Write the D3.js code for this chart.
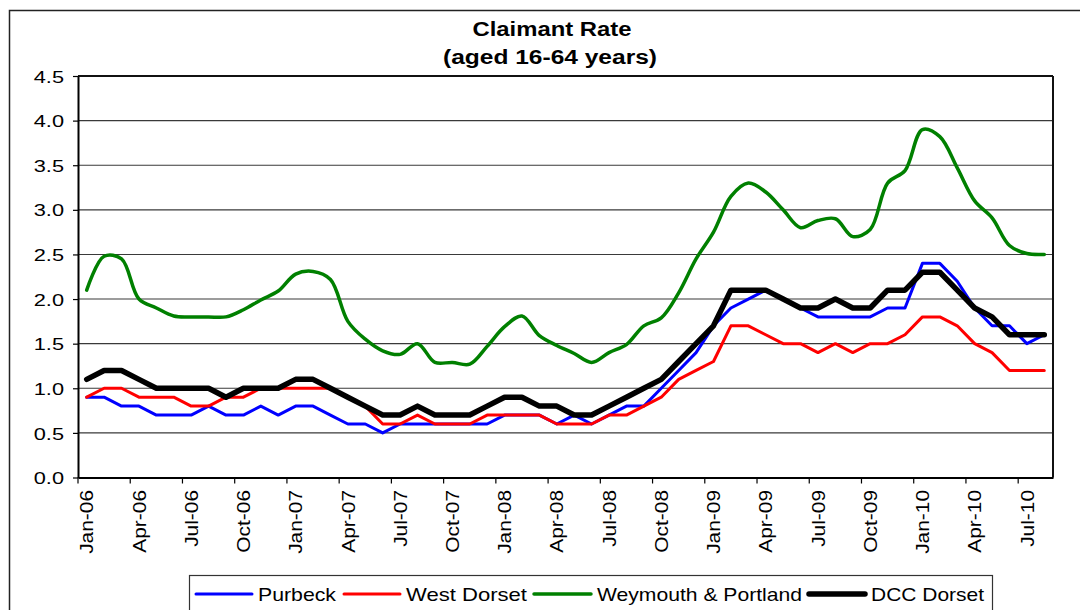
<!DOCTYPE html>
<html>
<head>
<meta charset="utf-8">
<script src="https://cdn.jsdelivr.net/npm/d3@7"></script>
<style>
  body { margin: 0; background: #fff; }
  text { font-family: "Liberation Sans", Arial, sans-serif; fill: #000; }
</style>
</head>
<body>
<div id="chart"></div>
<script>
// months on the category axis
const months = [
  "Jan-06","Feb-06","Mar-06","Apr-06","May-06","Jun-06","Jul-06","Aug-06","Sep-06","Oct-06","Nov-06","Dec-06",
  "Jan-07","Feb-07","Mar-07","Apr-07","May-07","Jun-07","Jul-07","Aug-07","Sep-07","Oct-07","Nov-07","Dec-07",
  "Jan-08","Feb-08","Mar-08","Apr-08","May-08","Jun-08","Jul-08","Aug-08","Sep-08","Oct-08","Nov-08","Dec-08",
  "Jan-09","Feb-09","Mar-09","Apr-09","May-09","Jun-09","Jul-09","Aug-09","Sep-09","Oct-09","Nov-09","Dec-09",
  "Jan-10","Feb-10","Mar-10","Apr-10","May-10","Jun-10","Jul-10","Aug-10"
]
const tickMonths = ["Jan-06","Apr-06","Jul-06","Oct-06","Jan-07","Apr-07","Jul-07","Oct-07","Jan-08",
  "Apr-08","Jul-08","Oct-08","Jan-09","Apr-09","Jul-09","Oct-09","Jan-10","Apr-10","Jul-10"]
const yTicks = [0, 0.5, 1, 1.5, 2, 2.5, 3, 3.5, 4, 4.5]

const purbeck = [0.9,0.9,0.8,0.8,0.7,0.7,0.7,0.8,0.7,0.7,0.8,0.7,
  0.8,0.8,0.7,0.6,0.6,0.5,0.6,0.6,0.6,0.6,0.6,0.6,
  0.7,0.7,0.7,0.6,0.7,0.6,0.7,0.8,0.8,1.0,1.2,1.4,
  1.7,1.9,2.0,2.1,2.0,1.9,1.8,1.8,1.8,1.8,1.9,1.9,
  2.4,2.4,2.2,1.9,1.7,1.7,1.5,1.6]
const westDorset = [0.9,1.0,1.0,0.9,0.9,0.9,0.8,0.8,0.9,0.9,1.0,1.0,
  1.0,1.0,1.0,0.9,0.8,0.6,0.6,0.7,0.6,0.6,0.6,0.7,
  0.7,0.7,0.7,0.6,0.6,0.6,0.7,0.7,0.8,0.9,1.1,1.2,
  1.3,1.7,1.7,1.6,1.5,1.5,1.4,1.5,1.4,1.5,1.5,1.6,
  1.8,1.8,1.7,1.5,1.4,1.2,1.2,1.2]
const weymouth = [2.1,2.48,2.45,2.0,1.9,1.81,1.8,1.8,1.8,1.88,1.99,2.09,
  2.28,2.31,2.22,1.75,1.55,1.42,1.38,1.5,1.29,1.29,1.27,1.47,
  1.69,1.81,1.59,1.48,1.39,1.29,1.4,1.49,1.7,1.79,2.07,2.45,
  2.75,3.15,3.3,3.2,3.0,2.8,2.88,2.9,2.7,2.78,3.3,3.44,
  3.9,3.82,3.47,3.1,2.91,2.6,2.51,2.5]
const dccDorset = [1.1,1.2,1.2,1.1,1.0,1.0,1.0,1.0,0.9,1.0,1.0,1.0,
  1.1,1.1,1.0,0.9,0.8,0.7,0.7,0.8,0.7,0.7,0.7,0.8,
  0.9,0.9,0.8,0.8,0.7,0.7,0.8,0.9,1.0,1.1,1.3,1.5,
  1.7,2.1,2.1,2.1,2.0,1.9,1.9,2.0,1.9,1.9,2.1,2.1,
  2.3,2.3,2.1,1.9,1.8,1.6,1.6,1.6]

const seriesNames = ["Purbeck", "West Dorset", "Weymouth & Portland", "DCC Dorset"]
const seriesValues = [purbeck, westDorset, weymouth, dccDorset]

// styling per series
const colors = ["#0000ff", "#ff0000", "#008000", "#000000"]
const widths = [3, 3, 3.5, 5.5]
const smooth = [false, false, true, false]

const WIDTH = 1080
const HEIGHT = 610
const plot = { left: 78, right: 1053, top: 76, bottom: 477.5 }

// stretch text along its reading direction (the original's font renders wide)
function stretch(sel, k) {
  sel.each(function() {
    const w = this.getComputedTextLength()
    d3.select(this).attr("textLength", w * k).attr("lengthAdjust", "spacingAndGlyphs")
  })
}

const svg = d3.select("#chart")
  .append("svg")
  .attr("width", WIDTH)
  .attr("height", HEIGHT)

// chart area border (left and top only visible)
svg.append("path")
  .attr("d", `M9.5,${HEIGHT} V10.5 H${WIDTH}`)
  .attr("fill", "none")
  .attr("stroke", "#222")
  .attr("stroke-width", 1.5)

const x = d3.scaleBand().domain(months).range([plot.left, plot.right]).padding(0)
const y = d3.scaleLinear().domain([0, 4.5]).range([plot.bottom, plot.top])
const bw = x.bandwidth()
const cx = m => x(m) + bw / 2

// gridlines
svg.append("g")
  .selectAll("line")
  .data(yTicks.filter(d => d > 0))
  .enter()
  .append("line")
  .attr("x1", plot.left)
  .attr("x2", plot.right)
  .attr("y1", d => y(d))
  .attr("y2", d => y(d))
  .attr("stroke", d => d === 4.5 ? "#111" : "#3a3a3a")
  .attr("stroke-width", d => d === 4.5 ? 1.8 : 1.1)

// right border of plot area
svg.append("line")
  .attr("x1", plot.right).attr("x2", plot.right)
  .attr("y1", plot.top).attr("y2", plot.bottom)
  .attr("stroke", "#111").attr("stroke-width", 2)

// y axis
const yAxis = svg.append("g")
  .attr("transform", `translate(${plot.left},0)`)
  .call(d3.axisLeft(y).tickValues(yTicks).tickFormat(d3.format(".1f")).tickSizeInner(5).tickSizeOuter(0))
yAxis.select(".domain").attr("stroke", "#000").attr("stroke-width", 2)
yAxis.selectAll(".tick line").attr("stroke", "#000").attr("stroke-width", 1.2)
yAxis.selectAll(".tick text")
  .attr("x", -14)
  .attr("dy", "0.36em")
  .style("font-size", "17px")
  .call(stretch, 1.28)

// x axis: ticks at category boundaries, labels at category centres
const xAxis = svg.append("g")
  .attr("transform", `translate(0,${plot.bottom})`)
  .call(d3.axisBottom(x).tickValues(tickMonths).tickSizeInner(6).tickSizeOuter(0))
xAxis.select(".domain").attr("stroke", "#000").attr("stroke-width", 2.2)
xAxis.selectAll(".tick line")
  .attr("transform", `translate(${-bw / 2},0)`)
  .attr("stroke", "#000").attr("stroke-width", 1.2)
xAxis.selectAll(".tick text")
  .attr("transform", "rotate(-90)")
  .attr("text-anchor", "end")
  .attr("x", -12.5)
  .attr("y", 0)
  .attr("dy", "0.37em")
  .style("font-size", "18px")
  .call(stretch, 1.16)

// series lines
seriesValues.forEach(function(vals, s) {
  const line = d3.line()
    .x((d, i) => cx(months[i]))
    .y(d => y(d))
    .curve(smooth[s] ? d3.curveCatmullRom.alpha(0.5) : d3.curveLinear)
  svg.append("path")
    .datum(vals)
    .attr("d", line)
    .attr("fill", "none")
    .attr("stroke", colors[s])
    .attr("stroke-width", widths[s])
    .attr("stroke-linejoin", "round")
    .attr("stroke-linecap", "round")
})

// title
const title = svg.append("g").style("font-weight", "bold").style("font-size", "19.5px")
title.append("text")
  .attr("x", 552).attr("y", 36)
  .attr("text-anchor", "middle")
  .attr("textLength", 159).attr("lengthAdjust", "spacingAndGlyphs")
  .text("Claimant Rate")
title.append("text")
  .attr("x", 550).attr("y", 64)
  .attr("text-anchor", "middle")
  .attr("textLength", 214).attr("lengthAdjust", "spacingAndGlyphs")
  .text("(aged 16-64 years)")

// legend
const legend = svg.append("g")
legend.append("rect")
  .attr("x", 189.5).attr("y", 575.5)
  .attr("width", 803).attr("height", 60)
  .attr("fill", "#fff")
  .attr("stroke", "#333").attr("stroke-width", 1.2)

const legendItems = [
  { x1: 196, x2: 252, tx: 258, tl: 78 },
  { x1: 344, x2: 400, tx: 406, tl: 121 },
  { x1: 534, x2: 591, tx: 597, tl: 205 },
  { x1: 809, x2: 865, tx: 871, tl: 113 }
]
legendItems.forEach(function(it, s) {
  legend.append("line")
    .attr("x1", it.x1).attr("x2", it.x2)
    .attr("y1", 594).attr("y2", 594)
    .attr("stroke", colors[s])
    .attr("stroke-width", widths[s])
    .attr("stroke-linecap", "round")
  legend.append("text")
    .attr("x", it.tx).attr("y", 600.5)
    .style("font-size", "18.5px")
    .attr("textLength", it.tl).attr("lengthAdjust", "spacingAndGlyphs")
    .text(seriesNames[s])
})
</script>
</body>
</html>
